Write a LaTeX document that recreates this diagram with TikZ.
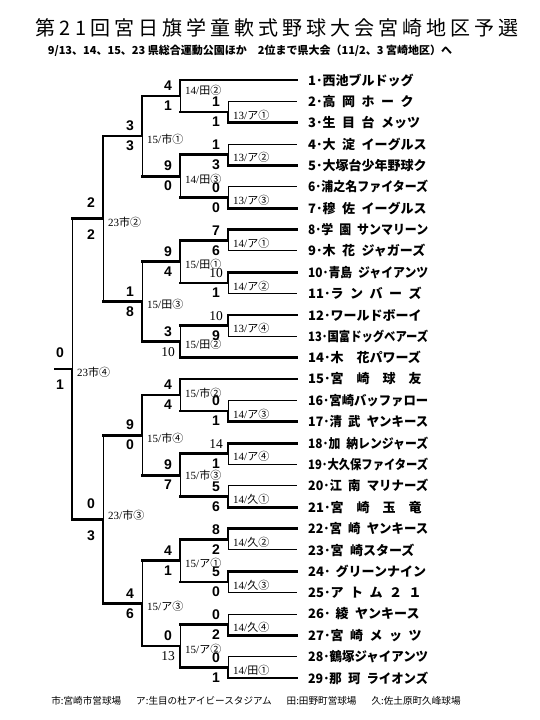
\documentclass[tikz,border=0pt]{standalone}
\usepackage{fontspec}
\usepackage{graphicx}
\setmainfont{Liberation Serif}
\newfontfamily\jp{Noto Sans CJK JP}
\newfontfamily\titlejp{Noto Sans CJK JP}[LetterSpace=20]
\newfontfamily\digits{Liberation Sans}
\usetikzlibrary{calc}

% 試合: 名前, 列x, 上側, 下側, 上の線, 下の線, 勝者(a/b)
\newcommand\game[7]{%
  \path ($(#3)!.5!(#4)$) coordinate (#1-m);
  \coordinate (#1) at (#2,0 |- #1-m);
  \coordinate (#1-a) at (#1 |- #3);
  \coordinate (#1-b) at (#1 |- #4);
  \draw[#5] (#1-a) -- (#3);
  \draw[#6] (#1-b) -- (#4);
  \if a#7
    \draw[lose] (#1) -- (#1-b);
    \draw[win] (#1-a) -- (#1);
  \else
    \draw[lose] (#1-a) -- (#1);
    \draw[win] (#1) -- (#1-b);
  \fi}
% 得点と会場
\newcommand\pts[1]{\ifnum#1>9 {\rmfamily\fontsize{13.5}{14}\selectfont#1}\else{\digits\bfseries\fontsize{14}{15}\selectfont#1}\fi}
\newcommand\gl[2]{{\rmfamily#1}{\jp#2}}
\def\vshift{-3pt}
\newcommand\result[5][10pt]{%
  \node[score] (#2-s) at ([xshift=-12pt,yshift=#1]#2) {\pts{#3}};
  \node[score] (#2-t) at ([xshift=-12pt,yshift=-#1]#2) {\pts{#4}};
  \node[venue] (#2-v) at ([xshift=5pt,yshift=\vshift]#2) {#5};}
\newcommand\fitname[1]{\sbox0{#1}\ifdim\wd0>120pt\resizebox{120pt}{\height}{#1}\else\usebox0\fi}

\begin{document}
\begin{tikzpicture}[x=1pt, y=-1pt,
  lose/.style={line width=0.9pt},
  win/.style={line width=2.8pt, line cap=rect},
  team/.style={anchor=west, inner sep=0pt, font={\jp\bfseries\fontsize{13}{14}\selectfont\spaceskip=.5em\relax}},
  score/.style={inner sep=0pt},
  venue/.style={anchor=west, inner sep=0pt, font=\fontsize{11}{12}\selectfont}]
\fill[white] (0,0) rectangle (540,720);
\useasboundingbox (0,0) rectangle (540,720);

% 見出し
\node[font=\titlejp\fontsize{20}{22}\selectfont] (title) at (277,28) {第21回宮日旗学童軟式野球大会宮崎地区予選};
\node[font=\jp\bfseries\fontsize{11}{12}\selectfont] (sub) at (250,51) {9/13、14、15、23 県総合運動公園ほか\quad 2位まで県大会（11/2、3 宮崎地区）へ};

% チーム
\foreach \n [count=\i] in {西池ブルドッグ, 高 岡 ホ ー ク, 生 目 台 メッツ, 大 淀 イーグルス, 大塚台少年野球ク, 浦之名ファイターズ, 穆 佐 イーグルス, 学 園 サンマリーン, 木 花 ジャガーズ, 青島 ジャイアンツ, ラ ン バ ー ズ, ワールドボーイ, 国富ドッグベアーズ, 木　花パワーズ, 宮　崎　球　友, 宮崎バッファロー, 清 武 ヤンキース, 加 納レンジャーズ, 大久保ファイターズ, 江 南 マリナーズ, 宮　崎　玉　竜, 宮 崎 ヤンキース, 宮 崎スターズ, \hspace{.4em}グリーンナイン, ア ト ム ２ １, \hspace{.4em}綾 ヤンキース, 宮 崎 メ ッ ツ, 鶴塚ジャイアンツ, 那 珂 ライオンズ} {
  \node[team] (t\i) at (308, {80+21.36*(\i-1)}) {\fitname{\i･\n}};
  \coordinate (e\i) at (297, {80+21.36*(\i-1)});
}

% 上のブロック
\game{a1}{228}{e2}{e3}{lose}{win}{b}
\game{a2}{180}{e1}{a1}{win}{win}{a}
\game{a3}{228}{e4}{e5}{lose}{win}{b}
\game{a4}{228}{e6}{e7}{lose}{win}{b}
\game{a5}{180}{a3}{a4}{win}{win}{a}
\game{a6}{142}{a2}{a5}{win}{win}{a}
\game{a7}{228}{e8}{e9}{win}{lose}{a}
\game{a8}{228}{e10}{e11}{win}{lose}{a}
\game{a9}{180}{a7}{a8}{win}{win}{a}
\game{a10}{228}{e12}{e13}{win}{lose}{a}
\game{a11}{180}{a10}{e14}{win}{win}{b}
\game{a12}{142}{a9}{a11}{win}{win}{b}
\game{a13}{103}{a6}{a12}{win}{win}{a}
% 下のブロック
\game{b1}{228}{e16}{e17}{lose}{win}{b}
\game{b2}{180}{e15}{b1}{win}{win}{a}
\game{b3}{228}{e18}{e19}{win}{lose}{a}
\game{b4}{228}{e20}{e21}{lose}{win}{b}
\game{b5}{180}{b3}{b4}{win}{win}{a}
\game{b6}{142}{b2}{b5}{win}{win}{a}
\game{b7}{228}{e22}{e23}{win}{lose}{a}
\game{b8}{228}{e24}{e25}{win}{lose}{a}
\game{b9}{180}{b7}{b8}{win}{win}{a}
\game{b10}{228}{e26}{e27}{lose}{win}{b}
\game{b11}{228}{e28}{e29}{lose}{win}{b}
\game{b12}{180}{b10}{b11}{win}{win}{b}
\game{b13}{142}{b9}{b12}{win}{win}{b}
\game{b14}{103}{b6}{b13}{win}{win}{b}
% 決勝
\game{f}{72}{a13}{b14}{win}{win}{b}
\coordinate (champ) at (55,0 |- f);
\draw[win] (champ) -- (f);

% スコア
\result{a1}{1}{1}{\gl{13/}{ア①}}
{\def\vshift{6pt}\result{a2}{4}{1}{\gl{14/}{田②}}}
\result{a3}{1}{3}{\gl{13/}{ア②}}
\result{a4}{0}{0}{\gl{13/}{ア③}}
\result{a5}{9}{0}{\gl{14/}{田③}}
\result{a6}{3}{3}{\gl{15/}{市①}}
\result{a7}{7}{6}{\gl{14/}{ア①}}
\result{a8}{10}{1}{\gl{14/}{ア②}}
\result{a9}{9}{4}{\gl{15/}{田①}}
\result{a10}{10}{9}{\gl{13/}{ア④}}
\result{a11}{3}{10}{\gl{15/}{田②}}
\result{a12}{1}{8}{\gl{15/}{田③}}
\result[16pt]{a13}{2}{2}{\gl{23}{市②}}
\result{b1}{0}{1}{\gl{14/}{ア③}}
{\def\vshift{2pt}\result{b2}{4}{4}{\gl{15/}{市②}}}
\result{b3}{14}{1}{\gl{14/}{ア④}}
\result{b4}{5}{6}{\gl{14/}{久①}}
{\def\vshift{0pt}\result{b5}{9}{7}{\gl{15/}{市③}}}
\result{b6}{9}{0}{\gl{15/}{市④}}
\result{b7}{8}{2}{\gl{14/}{久②}}
\result{b8}{5}{0}{\gl{14/}{久③}}
\result{b9}{4}{1}{\gl{15/}{ア①}}
\result{b10}{0}{2}{\gl{14/}{久④}}
\result{b11}{0}{1}{\gl{14/}{田①}}
\result{b12}{0}{13}{\gl{15/}{ア②}}
\result{b13}{4}{6}{\gl{15/}{ア③}}
{\def\vshift{4pt}\result[16pt]{b14}{0}{3}{\gl{23/}{市③}}}
\result[16pt]{f}{0}{1}{\gl{23}{市④}}

% 球場
\node[font=\jp\fontsize{9.6}{11}\selectfont] (legend) at (256,701) {市:宮崎市営球場\hspace{15pt}ア:生目の杜アイビースタジアム\hspace{15pt}田:田野町営球場\hspace{15pt}久:佐土原町久峰球場};
\end{tikzpicture}
\end{document}
